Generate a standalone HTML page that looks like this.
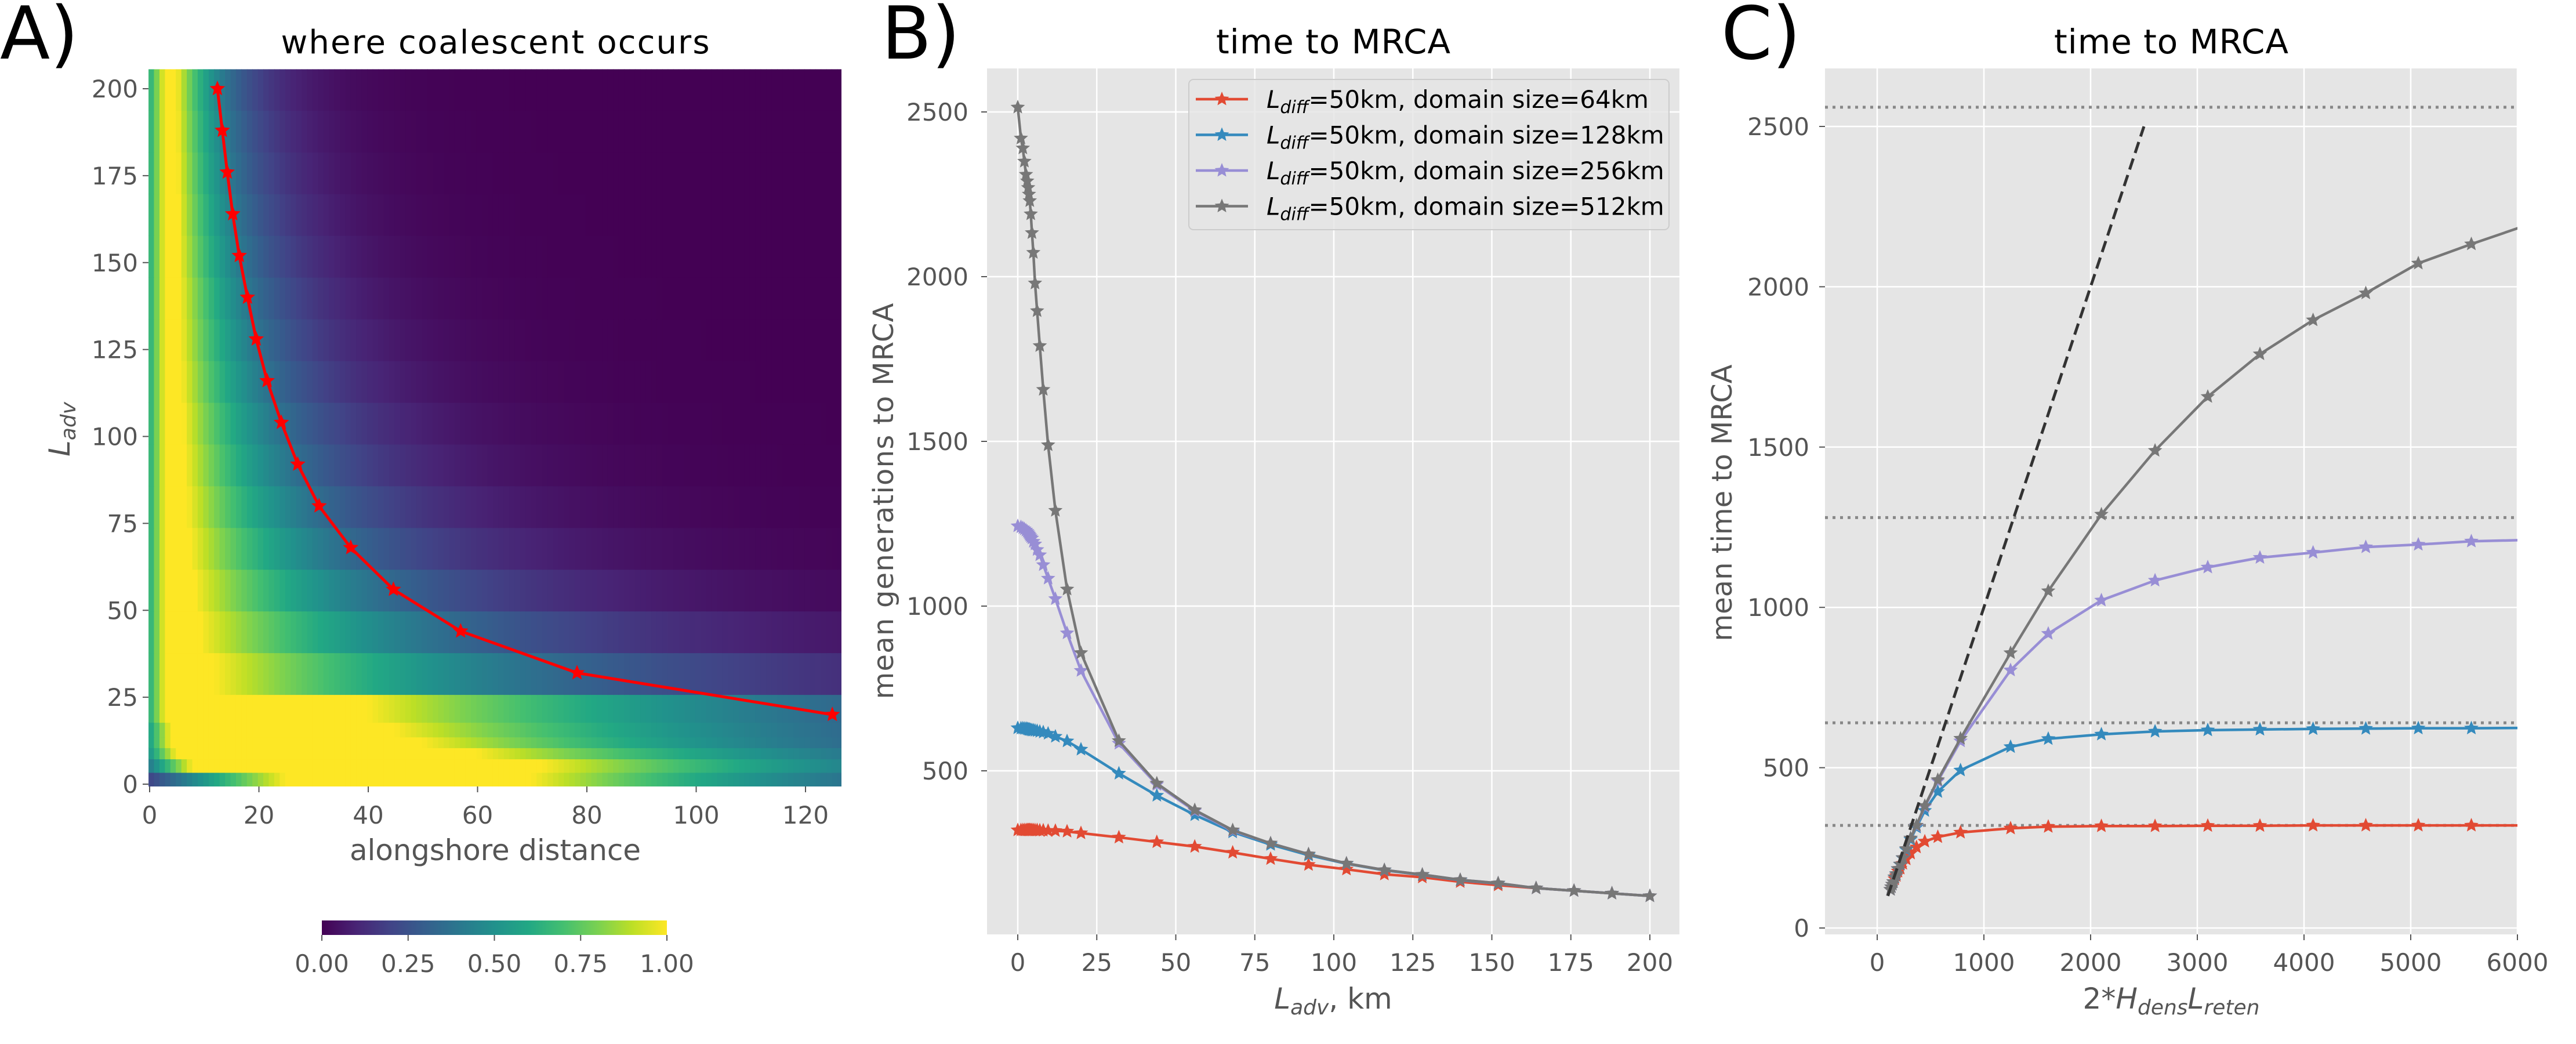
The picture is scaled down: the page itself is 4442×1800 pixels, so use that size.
<!DOCTYPE html>
<html><head><meta charset="utf-8"><style>
html,body{margin:0;padding:0;background:#fff}
svg{display:block;font-family:"DejaVu Sans","Liberation Sans",sans-serif}
</style></head><body>
<svg id="fig" width="4442" height="1800" viewBox="0 0 4442 1800" xmlns="http://www.w3.org/2000/svg">
<defs>
<clipPath id="clipA"><rect x="256" y="118" width="1195" height="1238"/></clipPath>
<clipPath id="clipB"><rect x="1702" y="118" width="1194" height="1493"/></clipPath>
<clipPath id="clipC"><rect x="3147" y="118" width="1194" height="1493"/></clipPath>
<linearGradient id="viridis" x1="0" x2="1" y1="0" y2="0">
<stop offset="0" stop-color="#440154"/><stop offset="0.1" stop-color="#482475"/><stop offset="0.2" stop-color="#414487"/><stop offset="0.3" stop-color="#355f8d"/><stop offset="0.4" stop-color="#2a788e"/><stop offset="0.5" stop-color="#21918c"/><stop offset="0.6" stop-color="#22a884"/><stop offset="0.7" stop-color="#44bf70"/><stop offset="0.8" stop-color="#7ad151"/><stop offset="0.9" stop-color="#bddf26"/><stop offset="1" stop-color="#fde725"/>
</linearGradient>
</defs>
<g id="gA"></g>
<g id="gB"></g>
<g id="gC"></g>

<text x="0" y="101" font-size="126" fill="#000">A)</text>
<text x="1520" y="101" font-size="126" fill="#000">B)</text>
<text x="2968" y="101" font-size="126" fill="#000">C)</text>

<text x="854" y="92" font-size="56" text-anchor="middle" textLength="739" fill="#000">where coalescent occurs</text>
<text x="2299" y="92" font-size="58" text-anchor="middle" textLength="404" fill="#000">time to MRCA</text>
<text x="3744" y="92" font-size="58" text-anchor="middle" textLength="404" fill="#000">time to MRCA</text>

<text x="854" y="1483" font-size="50" text-anchor="middle" textLength="502" fill="#555">alongshore distance</text>
<text transform="translate(120,740) rotate(-90)" font-size="50" text-anchor="middle" fill="#555"><tspan font-style="italic">L</tspan><tspan font-style="italic" font-size="36" dy="10">adv</tspan></text>

<text transform="translate(1540,864) rotate(-90)" font-size="48" text-anchor="middle" textLength="683" fill="#555">mean generations to MRCA</text>
<text x="2299" y="1739" font-size="50" text-anchor="middle" fill="#555"><tspan font-style="italic">L</tspan><tspan font-style="italic" font-size="36" dy="10">adv</tspan><tspan dy="-10">, km</tspan></text>

<text transform="translate(2986,867) rotate(-90)" font-size="48" text-anchor="middle" fill="#555">mean time to MRCA</text>
<text x="3744" y="1739" font-size="50" text-anchor="middle" fill="#555">2*<tspan font-style="italic">H</tspan><tspan font-style="italic" font-size="36" dy="10">dens</tspan><tspan font-style="italic" dy="-10">L</tspan><tspan font-style="italic" font-size="36" dy="10">reten</tspan></text>

<g>
<rect x="2050" y="137" width="828" height="259" rx="8" fill="#e5e5e5" fill-opacity="0.8" stroke="#cccccc" stroke-width="2"/>
<g id="legendItems"></g>
</g>
</svg>
<script>
// ---------- Panel A data ----------
const aRedX = [12.4,13.3,14.2,15.2,16.4,17.9,19.5,21.5,24.1,27.1,31.0,36.8,44.6,56.9,78.2,124.9];
const aRedY = [200,188,176,164,152,140,128,116,104,92,80,68,56,44,32,20];
const aRowEdges = [-0.6,3.4,7.3,10.5,13.6,17.8,25.8,37.8,49.8,61.8,73.8,85.8,97.8,109.8,121.8,133.8,145.8,157.8,169.8,181.8,193.8,205.6];
const aRowStart = [0.2,0.4,0.5,0.55,0.55,0.6,0.6,0.6,0.6,0.6,0.6,0.6,0.6,0.6,0.6,0.6,0.6,0.6,0.6,0.6,0.6];
const aRowRise = [25,8,5,4,4,3,3,3,3,3,3,3,3,3,3,3,3,3,3,3,3];
const aRowPlateau = [70,72,60,50,45,40,12,9.5,8.5,7.7,7.1,6.7,6.4,6.1,5.9,5.8,5.6,5.5,5.4,5.3,5.2];
const aRowScale = [60,70,75,75,78,80,58,43,33,27,23,20,18,16,14.6,13.4,12.3,11.4,10.6,10,9.3];
const cbTicks = [0,0.25,0.5,0.75,1.0];
const cbLabels = ["0.00","0.25","0.50","0.75","1.00"];
const aXTicks = [0,20,40,60,80,100,120];
const aYTicks = [0,25,50,75,100,125,150,175,200];

// ---------- Panel B data ----------
const bLadv = [0,1.0,1.6,2.1,2.6,3.0,3.3,3.55,3.8,4.12,4.49,4.93,5.46,6.12,6.97,8.07,9.6,11.9,15.6,20,32,44,56,68,80,92,104,116,128,140,152,164,176,188,200];
const yRed64 = [320,320,320,320,320,320,320,320,320,320,320,320,320,320,319,319,318,318,316,311,298,284,270,252,233,215,201,186,177,163,153,144,136,128,120];
const yBlue128 = [630,629,629,628,628,627,626,625,625,624,623,623,622,621,619,617,613,604,590,565,492,425,366,314,276,244,218,198,184,168,158,144,136,128,120];
const yPurple256 = [1243,1240,1237,1234,1230,1226,1222,1218,1214,1210,1206,1196,1188,1171,1155,1125,1084,1022,918,804,583,458,378,318,280,247,219,199,185,169,159,144,136,128,120];
const yGray512 = [2514,2420,2390,2350,2310,2290,2270,2250,2230,2190,2133,2073,1980,1896,1790,1657,1489,1290,1051,858,591,462,381,320,280,247,219,199,185,169,159,144,136,128,120];
const bXTicks = [0,25,50,75,100,125,150,175,200];
const bYTicks = [500,1000,1500,2000,2500];
const seriesNames = ["domain-64km","domain-128km","domain-256km","domain-512km"];
const seriesLabels = ["64km","128km","256km","512km"];
const seriesColors = ["#E24A33","#348ABD","#988ED5","#777777"];

// ---------- Panel C data ----------
const cX = [25000,15625,11905,9615,8333,7576,7042,6579,6068,5568,5071,4579,4085,3587,3098,2604,2101,1603,1250,781,568,446,368,313,272,240,216,195,179,164,152,142,133,125];
const cRed = [320,320,320,320,320,320,320,320,320,320,320,320,320,319,319,318,318,316,311,298,284,270,252,233,215,201,186,177,163,153,144,136,128,120];
const cBlue = [629,629,628,628,627,626,625,625,624,623,623,622,621,619,617,613,604,590,565,492,425,366,314,276,244,218,198,184,168,158,144,136,128,120];
const cPurple = [1240,1237,1234,1230,1226,1222,1218,1214,1210,1206,1196,1188,1171,1155,1125,1084,1022,918,804,583,458,378,318,280,247,219,199,185,169,159,144,136,128,120];
const cGray = [2420,2390,2350,2310,2290,2270,2250,2230,2190,2133,2073,1980,1896,1790,1657,1489,1290,1051,858,591,462,381,320,280,247,219,199,185,169,159,144,136,128,120];
const cLimits = [2560,1280,640,320];
const cRefLine = [100,2500];
const cXTicks = [0,1000,2000,3000,4000,5000,6000];
const cYTicks = [0,500,1000,1500,2000,2500];

const NS = "http://www.w3.org/2000/svg";
function mk(tag, attrs, parent){ const e=document.createElementNS(NS,tag); for(const k in attrs) e.setAttribute(k,attrs[k]); parent.appendChild(e); return e; }

const ax = x => 258 + x*9.425;
const ay = y => 1352 - y*5.995;
const bx = x => 1755 + x*5.45;
const by = y => 1613 - y*0.568;
const cx = x => 3237 + x*0.184;
const cy = y => 1600 - y*0.5528;

const VS = [[68,1,84],[72,36,117],[65,68,135],[53,95,141],[42,120,142],[33,145,140],[34,168,132],[68,191,112],[122,209,81],[189,223,38],[253,231,37]];
function viridis(v){ v=Math.max(0,Math.min(1,v)); const f=v*10, i=Math.min(9,Math.floor(f)), t=f-i; const a=VS[i], b=VS[i+1]; return "rgb("+a.map((c,j)=>Math.round(c+(b[j]-c)*t)).join(",")+")"; }
function star(x,y,r){ let p=[]; for(let k=0;k<10;k++){ const rr=k%2?r*0.45:r; const an=-Math.PI/2+k*Math.PI/5; p.push((x+rr*Math.cos(an)).toFixed(1)+","+(y+rr*Math.sin(an)).toFixed(1)); } return p.join(" "); }

// ---------- Panel A ----------
const gA = document.getElementById("gA");
const hm = mk("g",{"clip-path":"url(#clipA)"},gA);


for(let r=0;r<aRowEdges.length-1;r++){
  const y0=ay(aRowEdges[r+1]), y1=ay(aRowEdges[r]);
  for(let c=0;c<127;c++){
    const xc=c+0.5; let v;
    if(xc<aRowRise[r]) v=aRowStart[r]+(1-aRowStart[r])*xc/aRowRise[r];
    else if(xc<=aRowPlateau[r]) v=1;
    else v=Math.exp(-(xc-aRowPlateau[r])/aRowScale[r]);
    const cell=mk("rect",{x:ax(c-0.2).toFixed(1),y:y0.toFixed(1),width:(9.425+0.8).toFixed(1),height:(y1-y0+0.8).toFixed(1),fill:viridis(v)},hm);
    
    
  }
}
const redLine = mk("polyline",{points:aRedX.map((x,i)=>ax(x)+","+ay(aRedY[i])).join(" "),fill:"none",stroke:"#ff0000","stroke-width":5,"clip-path":"url(#clipA)"},gA);


aRedX.forEach((x,i)=>{ const s=mk("polygon",{points:star(ax(x),ay(aRedY[i]),14),fill:"#ff0000"},gA);
  
   });
aXTicks.forEach(t=>{ mk("line",{x1:ax(t),x2:ax(t),y1:1356,y2:1366,stroke:"#555","stroke-width":2},gA);
  const tx=mk("text",{x:ax(t),y:1420,"font-size":42,"text-anchor":"middle",fill:"#555"},gA); tx.textContent=t;
  
   });
aYTicks.forEach(t=>{ mk("line",{x1:246,x2:256,y1:ay(t),y2:ay(t),stroke:"#555","stroke-width":2},gA);
  const tx=mk("text",{x:238,y:ay(t)+15,"font-size":42,"text-anchor":"end",fill:"#555"},gA); tx.textContent=t;
  
   });
const cb = mk("rect",{x:555,y:1587,width:595,height:25,fill:"url(#viridis)"},gA);


cbTicks.forEach((t,i)=>{ const X=555+t*595; mk("line",{x1:X,x2:X,y1:1612,y2:1622,stroke:"#555","stroke-width":2},gA);
  const tx=mk("text",{x:X,y:1676,"font-size":42,"text-anchor":"middle",fill:"#555"},gA); tx.textContent=cbLabels[i];
  
   });

function axesBg(g, x0,y0,x1,y1, xt, yt, sx, sy, name, ylabelRight){
  mk("rect",{x:x0,y:y0,width:x1-x0,height:y1-y0,fill:"#E5E5E5"},g);
  xt.forEach(t=>{ mk("line",{x1:sx(t),x2:sx(t),y1:y0,y2:y1,stroke:"#fff","stroke-width":2.5},g);
    mk("line",{x1:sx(t),x2:sx(t),y1:y1,y2:y1+10,stroke:"#555","stroke-width":2},g);
    const tx=mk("text",{x:sx(t),y:1674,"font-size":42,"text-anchor":"middle",fill:"#555"},g); tx.textContent=t;
    
     });
  yt.forEach(t=>{ mk("line",{x1:x0,x2:x1,y1:sy(t),y2:sy(t),stroke:"#fff","stroke-width":2.5},g);
    mk("line",{x1:x0-10,x2:x0,y1:sy(t),y2:sy(t),stroke:"#555","stroke-width":2},g);
    const tx=mk("text",{x:ylabelRight,y:sy(t)+15,"font-size":42,"text-anchor":"end",fill:"#555"},g); tx.textContent=t;
    
     });
}
function series(g, xs, ys, sx, sy, color, clip, name){
  const sg=mk("g",{"clip-path":clip},g);
  
  
  mk("polyline",{points:xs.map((x,i)=>sx(x).toFixed(1)+","+sy(ys[i]).toFixed(1)).join(" "),fill:"none",stroke:color,"stroke-width":4.5,"stroke-linejoin":"round"},sg);
  xs.forEach((x,i)=>{ const s=mk("polygon",{points:star(sx(x),sy(ys[i]),13),fill:color},sg);
    
     });
}

// ---------- Panel B ----------
const gB=document.getElementById("gB");
axesBg(gB,1702,118,2896,1611,bXTicks,bYTicks,bx,by,"panel-b",1670);
const bSeries=[yRed64,yBlue128,yPurple256,yGray512];
bSeries.forEach((ys,k)=>series(gB,bLadv,ys,bx,by,seriesColors[k],"url(#clipB)","panel-b-"+seriesNames[k]));

const lg=document.getElementById("legendItems");
seriesLabels.forEach((lab,k)=>{ const Y=171+k*61.5;
  const item=mk("g",{},lg);
  
  
  mk("line",{x1:2062,x2:2152,y1:Y,y2:Y,stroke:seriesColors[k],"stroke-width":4.5},item);
  mk("polygon",{points:star(2107,Y,13),fill:seriesColors[k]},item);
  const t=mk("text",{x:2184,y:Y+15,"font-size":42,fill:"#000"},item);
  t.innerHTML='<tspan font-style="italic">L</tspan><tspan font-style="italic" font-size="30" dy="9">diff</tspan><tspan dy="-9">=50km, domain size='+lab+'</tspan>'; });

// ---------- Panel C ----------
const gC=document.getElementById("gC");
axesBg(gC,3147,118,4341,1611,cXTicks,cYTicks,cx,cy,"panel-c",3120);
cLimits.forEach(v=>{ const l=mk("line",{x1:3147,x2:4341,y1:cy(v),y2:cy(v),stroke:"#888","stroke-width":5,"stroke-dasharray":"5,8"},gC);
  
   });
const cSeries=[cRed,cBlue,cPurple,cGray];
cSeries.forEach((ys,k)=>series(gC,cX,ys,cx,cy,seriesColors[k],"url(#clipC)","panel-c-"+seriesNames[k]));
const ref=mk("line",{x1:cx(cRefLine[0]),y1:cy(cRefLine[0]),x2:cx(cRefLine[1]),y2:cy(cRefLine[1]),stroke:"#333","stroke-width":5,"stroke-dasharray":"20,10"},gC);


</script>
</body></html>
